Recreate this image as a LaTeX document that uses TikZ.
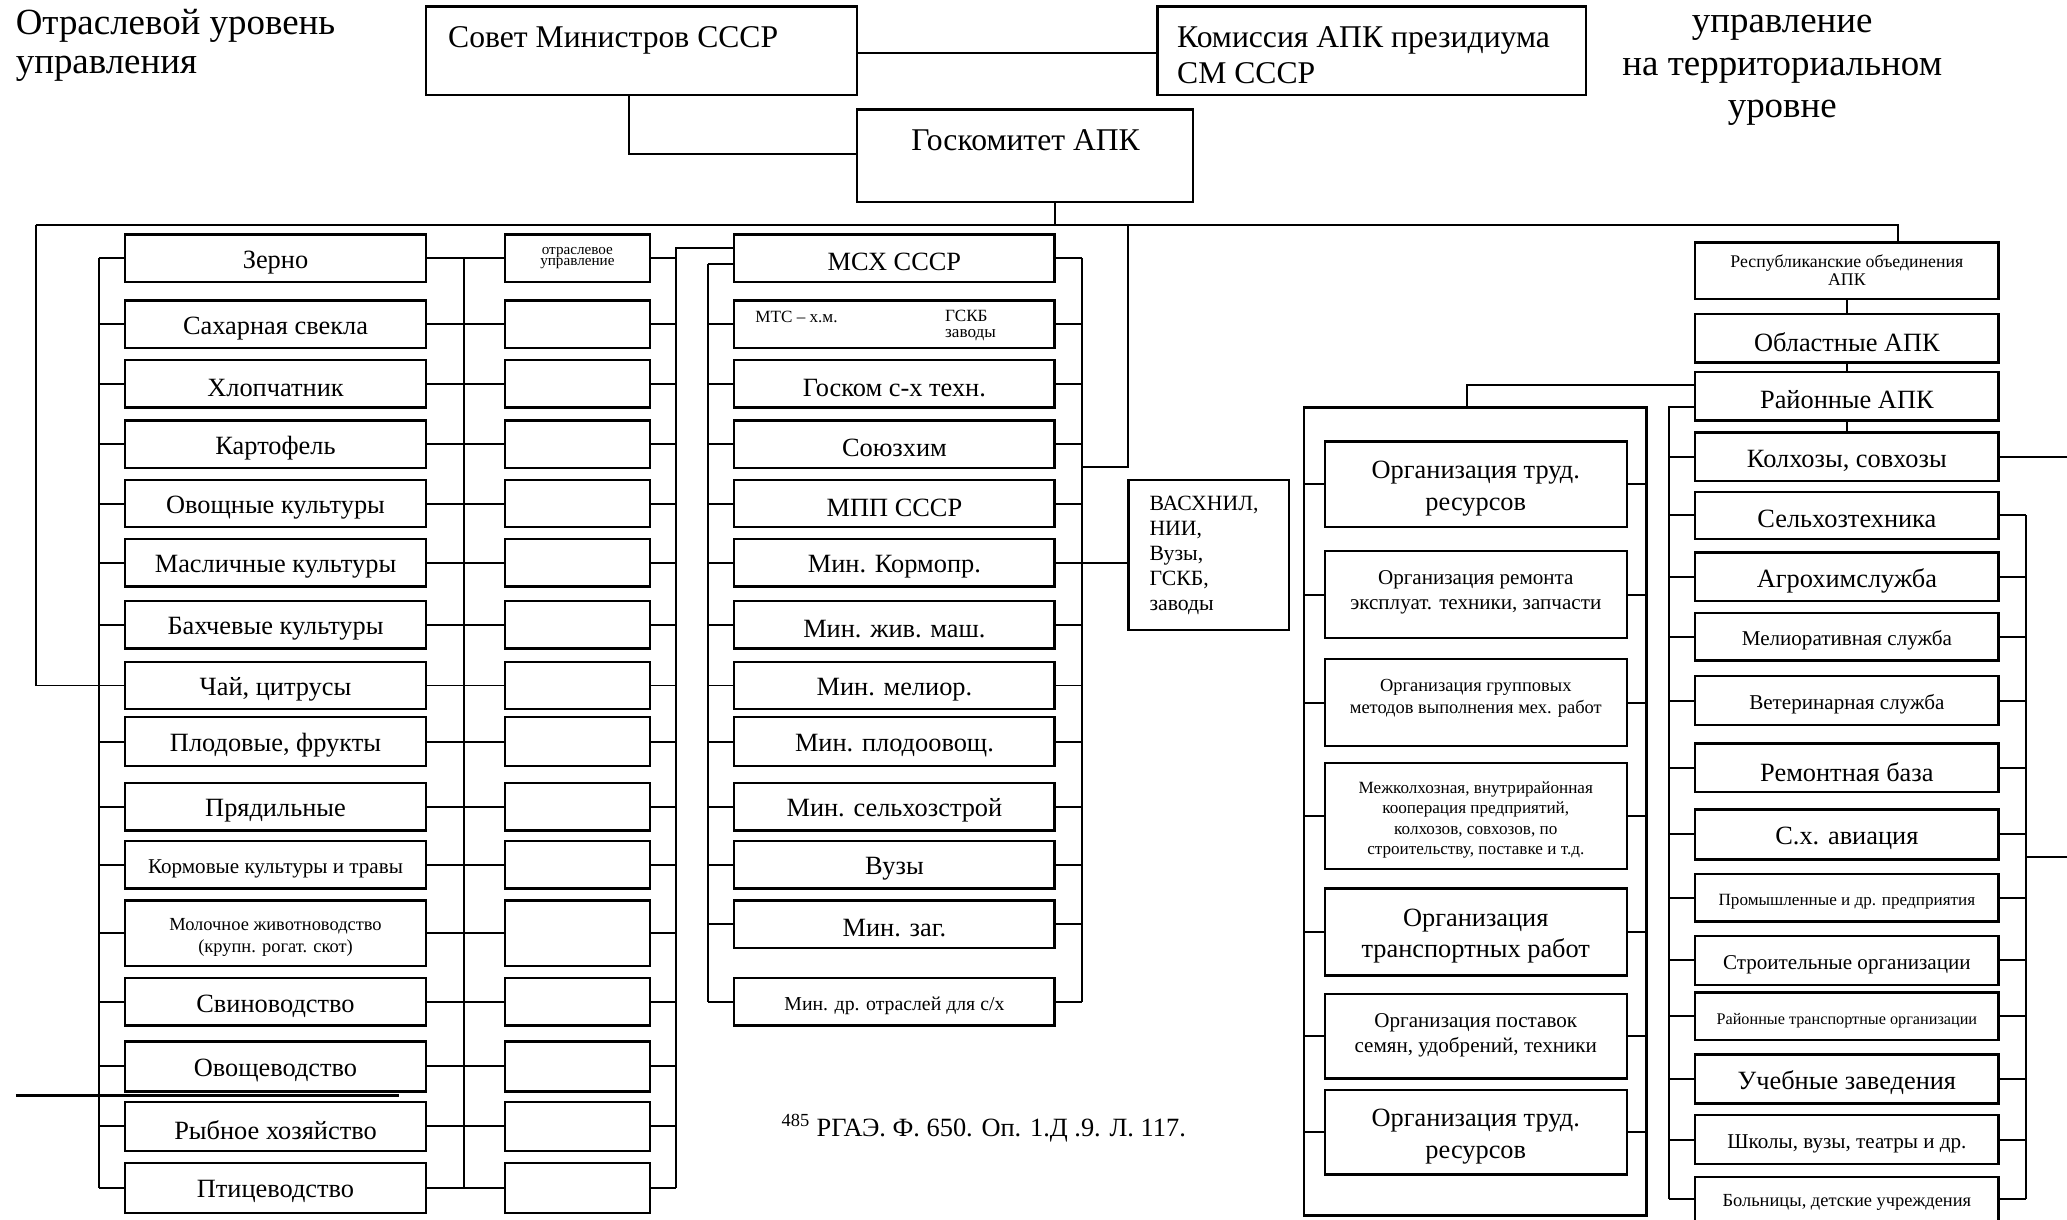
\documentclass[tikz,border=0pt]{standalone}
\usepackage{fontspec}
\setmainfont{Liberation Serif}
\tikzset{
  box/.style={draw, line width=1.8pt, inner sep=0pt, outer sep=0pt},
  boxtext/.style={inner sep=0pt, outer sep=0pt, align=center, font=\fontsize{20}{24}\selectfont},
  wire/.style={line width=1.5pt},
  txt/.style={inner sep=0pt, outer sep=0pt},
  t28/.style={font=\fontsize{28}{32}\selectfont},
  t24/.style={font=\fontsize{24}{27}\selectfont},
  t20/.style={font=\fontsize{20}{24}\selectfont},
  t16/.style={font=\fontsize{16}{19}\selectfont},
  t15/.style={font=\fontsize{15}{18}\selectfont},
  t14/.style={font=\fontsize{14}{16.5}\selectfont},
  t13/.style={font=\fontsize{13}{15.5}\selectfont},
  t12/.style={font=\fontsize{12.3}{14}\selectfont},
}
% box: [text style]{name}{x1}{y1}{x2}{y2}{text}; the text sits a little below the middle
\newcommand\bx[7][]{%
  \node[box,minimum width={(#5-#3)*1pt},minimum height={(#6-#4)*1pt}] (#2) at ({(#3+#5)/2},{(#4+#6)/2}) {};
  \node[boxtext,#1] (#2-t) at ({(#3+#5)/2},{(#4+#6)/2+3}) {#7};}
\begin{document}
\begin{tikzpicture}[x=1pt,y=-1pt]
\useasboundingbox (0,0) rectangle (1568,925);
\clip (0,0) rectangle (1568,925);

% headings
\node[txt,t28,anchor=base west] (ttlA) at (12,26) {Отраслевой уровень};
\node[txt,t28,anchor=base west] (ttlB) at (12,56) {управления};
\node[txt,t28,anchor=base] (ttlC) at (1352,25) {управление};
\node[txt,t28,anchor=base] (ttlD) at (1352,57) {на территориальном};
\node[txt,t28,anchor=base] (ttlE) at (1352,89) {уровне};

% top level
\bx{sovet}{323}{5}{650}{72}{}
\node[txt,t24,anchor=base west] (sovetT) at (340,36) {Совет Министров СССР};
\bx{komis}{878}{5}{1203}{72}{}
\node[txt,t24,anchor=base west] (komisT1) at (893,36) {Комиссия АПК президиума};
\node[txt,t24,anchor=base west] (komisT2) at (893,63) {СМ СССР};
\bx{goskom}{650}{83}{905}{153}{}
\node[txt,t24,anchor=base] (goskomT) at (778,114) {Госкомитет АПК};

% bus positions
\coordinate (cmY) at (0,40);
\coordinate (sgX) at (477,117);
\coordinate (gkX) at (800,171);
\coordinate (mbL) at (27,171);
\coordinate (mbR) at (1440,171);
\coordinate (bL) at (75,0);
\coordinate (bM) at (352,0);
\coordinate (bA) at (513,0);
\coordinate (aTop) at (513,188);
\coordinate (bB) at (537,0);
\coordinate (bBtop) at (537,200);
\coordinate (bC) at (821,0);
\coordinate (vX) at (856,354);
\coordinate (frX) at (1113,292);
\coordinate (r1Top) at (1266,309);
\coordinate (bR1) at (1266,0);
\coordinate (bR2) at (1537,0);
\coordinate (avY) at (1537,650);
\coordinate (edge) at (1568,0);
\coordinate (ruleA) at (12,831);
\coordinate (ruleB) at (303,831);

% branch column
\bx{L1}{95}{178}{323}{214}{Зерно}
\bx{L2}{95}{228}{323}{264}{Сахарная свекла}
\bx{L3}{95}{273}{323}{309}{Хлопчатник}
\bx{L4}{95}{319}{323}{355}{Картофель}
\bx{L5}{95}{364}{323}{400}{Овощные культуры}
\bx{L6}{95}{409}{323}{445}{Масличные культуры}
\bx{L7}{95}{456}{323}{492}{Бахчевые культуры}
\bx{L8}{95}{502}{323}{538}{Чай, цитрусы}
\bx{L9}{95}{544}{323}{581}{Плодовые, фрукты}
\bx{L10}{95}{594}{323}{630}{Прядильные}
\bx[t16]{L11}{95}{638}{323}{674}{Кормовые культуры и травы}
\bx[t14]{L12}{95}{683}{323}{733}{Молочное животноводство\\(крупн. рогат. скот)}
\bx{L13}{95}{742}{323}{778}{Свиноводство}
\bx{L14}{95}{790}{323}{828}{Овощеводство}
\bx{L15}{95}{836}{323}{873}{Рыбное хозяйство}
\bx{L16}{95}{882}{323}{920}{Птицеводство}

% branch management column
\bx[font=\fontsize{11.5}{8.5}\selectfont,yshift=3pt]{S1}{383}{178}{493}{214}{отраслевое\\управление}
\bx{S2}{383}{228}{493}{264}{}
\bx{S3}{383}{273}{493}{309}{}
\bx{S4}{383}{319}{493}{355}{}
\bx{S5}{383}{364}{493}{400}{}
\bx{S6}{383}{409}{493}{445}{}
\bx{S7}{383}{456}{493}{492}{}
\bx{S8}{383}{502}{493}{538}{}
\bx{S9}{383}{544}{493}{581}{}
\bx{S10}{383}{594}{493}{630}{}
\bx{S11}{383}{638}{493}{674}{}
\bx{S12}{383}{683}{493}{733}{}
\bx{S13}{383}{742}{493}{778}{}
\bx{S14}{383}{790}{493}{828}{}
\bx{S15}{383}{836}{493}{873}{}
\bx{S16}{383}{882}{493}{920}{}

% ministries column
\bx{M1}{557}{178}{800}{214}{МСХ СССР}
\bx{M2}{557}{228}{800}{264}{}
\node[txt,t13,anchor=base west] (M2a) at (573,245) {МТС – х.м.};
\node[txt,t13,anchor=base west] (M2b) at (717,244) {ГСКБ};
\node[txt,t13,anchor=base west] (M2c) at (717,256) {заводы};
\bx{M3}{557}{273}{800}{309}{Госком с-х техн.}
\bx{M4}{557}{319}{800}{355}{Союзхим}
\bx{M5}{557}{364}{800}{400}{МПП СССР}
\bx{M6}{557}{409}{800}{445}{Мин. Кормопр.}
\bx{M7}{557}{456}{800}{492}{Мин. жив. маш.}
\bx{M8}{557}{502}{800}{538}{Мин. мелиор.}
\bx{M9}{557}{544}{800}{581}{Мин. плодоовощ.}
\bx{M10}{557}{594}{800}{630}{Мин. сельхозстрой}
\bx{M11}{557}{638}{800}{674}{Вузы}
\bx{M12}{557}{683}{800}{719}{Мин. заг.}
\bx[t15]{M13}{557}{742}{800}{778}{Мин. др. отраслей для с/х}

\bx{vaskh}{856}{364}{978}{478}{}
\node[txt,font=\fontsize{16.5}{19}\selectfont,align=left,anchor=north west] (vaskhT) at (872,376) {ВАСХНИЛ,\\НИИ,\\Вузы,\\ГСКБ,\\заводы};

% territorial chain
\bx[font=\fontsize{13.5}{14}\selectfont,yshift=3.5pt]{resp}{1286}{184}{1516}{227}{Республиканские объединения\\АПК}
\bx{obl}{1286}{238}{1516}{275}{Областные АПК}
\bx{rai}{1286}{282}{1516}{319}{Районные АПК}
\bx{K1}{1286}{328}{1516}{365}{Колхозы, совхозы}
\bx{K2}{1286}{373}{1516}{409}{Сельхозтехника}
\bx{K3}{1286}{419}{1516}{456}{Агрохимслужба}
\bx[t16]{K4}{1286}{465}{1516}{501}{Мелиоративная служба}
\bx[t16]{K5}{1286}{513}{1516}{550}{Ветеринарная служба}
\bx{K6}{1286}{564}{1516}{601}{Ремонтная база}
\bx{K7}{1286}{614}{1516}{652}{С.х. авиация}
\bx[t13]{K8}{1286}{663}{1516}{699}{Промышленные и др. предприятия}
\bx[t16]{K9}{1286}{710}{1516}{747}{Строительные организации}
\bx[t12]{K10}{1286}{753}{1516}{789}{Районные транспортные организации}
\bx{K11}{1286}{800}{1516}{837}{Учебные заведения}
\bx[t16]{K12}{1286}{846}{1516}{883}{Школы, вузы, театры и др.}
\bx[t14]{K13}{1286}{893}{1516}{926}{Больницы, детские учреждения}

% district organisations frame
\bx{frame}{989}{309}{1249}{922}{}
\bx{F1}{1005}{335}{1234}{400}{Организация труд.\\ресурсов}
\bx[t16,yshift=5pt]{F2}{1005}{418}{1234}{484}{Организация ремонта\\эксплуат. техники, запчасти}
\bx[t14,yshift=6pt]{F3}{1005}{500}{1234}{566}{Организация групповых\\методов выполнения мех. работ}
\bx[t13]{F4}{1005}{579}{1234}{659}{Межколхозная, внутрирайонная\\кооперация предприятий,\\колхозов, совхозов, по\\строительству, поставке и т.д.}
\bx{F5}{1005}{674}{1234}{740}{Организация\\транспортных работ}
\bx[t16,yshift=4pt]{F6}{1005}{754}{1234}{818}{Организация поставок\\семян, удобрений, техники}
\bx{F7}{1005}{827}{1234}{891}{Организация труд.\\ресурсов}

% connectors: top level
\draw[wire] (sovet.east |- cmY) -- (komis.west |- cmY);
\draw[wire] (sovet.south -| sgX) |- (goskom.west |- sgX);
\draw[wire] (goskom.south -| gkX) -- (gkX);
\draw[wire] (mbL) -- (mbR) -- (resp.north -| mbR);
\draw[wire] (mbL) |- (L8.west);

% connectors: branches
\foreach \i in {1,...,16}{
  \draw[wire] (L\i.west -| bL) -- (L\i.west);
  \draw[wire] (L\i.east) -- (S\i.west);
  \draw[wire] (S\i.east) -- (S\i.east -| bA);
}
\draw[wire] (L1.west -| bL) -- (L16.west -| bL);
\draw[wire] (L1.east -| bM) -- (L16.east -| bM);
\draw[wire] (S16.east -| bA) -- (aTop) -- (M1.west |- aTop);

% connectors: ministries
\draw[wire] (bBtop) -- (M1.west |- bBtop);
\draw[wire] (bBtop) -- (M13.west -| bB);
\foreach \i in {2,...,13}{
  \draw[wire] (M\i.west -| bB) -- (M\i.west);
}
\foreach \i in {1,...,13}{
  \draw[wire] (M\i.east) -- (M\i.east -| bC);
}
\draw[wire] (M1.east -| bC) -- (M13.east -| bC);
\draw[wire] (vX |- mbL) -- (vX) -- (vX -| bC);
\draw[wire] (M6.east) -- (vaskh.west |- M6.east);

% connectors: territorial chain
\draw[wire] (resp.south) -- (obl.north);
\draw[wire] (obl.south) -- (rai.north);
\draw[wire] (rai.south) -- (K1.north);
\draw[wire] (rai.west |- frX) -- (frX) -- (frame.north -| frX);
\draw[wire] (rai.west |- r1Top) -- (r1Top) -- (K13.west -| bR1);
\foreach \i in {1,...,13}{
  \draw[wire] (K\i.west -| bR1) -- (K\i.west);
}
\foreach \i in {2,...,13}{
  \draw[wire] (K\i.east) -- (K\i.east -| bR2);
}
\draw[wire] (K2.east -| bR2) -- (K13.east -| bR2);
\draw[wire] (K1.east) -- (K1.east -| edge);
\draw[wire] (avY) -- (avY -| edge);
\foreach \i in {1,...,7}{
  \draw[wire] (F\i.west -| frame.west) -- (F\i.west);
  \draw[wire] (F\i.east) -- (F\i.east -| frame.east);
}

% footnote
\draw[line width=1.7pt] (ruleA) -- (ruleB);
\node[txt,t20,anchor=base west] (fnote) at (593,862) {\textsuperscript{485} РГАЭ. Ф. 650. Оп. 1.Д .9. Л. 117.};
\end{tikzpicture}
\end{document}
